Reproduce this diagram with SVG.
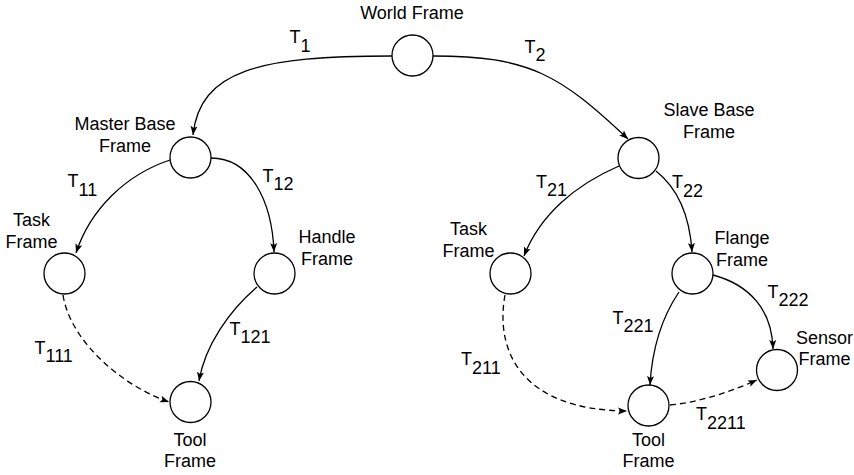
<svg xmlns="http://www.w3.org/2000/svg" width="854" height="475" viewBox="0 0 854 475">
<style>
.n{fill:#fff;stroke:#000;stroke-width:1.3}
.t{font-family:"Liberation Sans",Arial,sans-serif;font-size:18px;fill:#000}
.m{text-anchor:middle}
.e{fill:none;stroke:#000;stroke-width:1.3;marker-end:url(#a)}
.d{stroke-dasharray:6 4}
</style>
<defs>
<marker id="a" markerWidth="10" markerHeight="8" refX="9" refY="4" orient="auto" markerUnits="userSpaceOnUse">
<path d="M0,0.5 L9,4 L0,7.5 L2,4 z" fill="#000"/>
</marker>
</defs>
<g id="connectors">
<path class="e" d="M392,56 C260,56 200,70 193,135"/>
<path class="e" d="M433,56 C530,56 560,75 628,139"/>
<path class="e" d="M170,160 C125,175 90,210 76,253"/>
<path class="e" d="M211,158 C250,158 272,200 274,252"/>
<path class="e" d="M257,287 C230,310 205,345 199,381"/>
<path class="e d" d="M63,295 C70,340 120,385 169,402"/>
<path class="e" d="M619,166 C575,185 540,215 524,256"/>
<path class="e" d="M656,171 C680,190 690,220 692,252"/>
<path class="e d" d="M505,295 C495,350 520,410 627,411"/>
<path class="e" d="M679,292 C660,320 652,350 650,385"/>
<path class="e" d="M713,275 C750,285 772,310 773,349"/>
<path class="e d" d="M670,405 C700,402 730,392 757,380"/>
<text class="t" x="289.5" y="43">T<tspan dy="8.5">1</tspan></text>
<text class="t" x="524.5" y="53">T<tspan dy="8">2</tspan></text>
<text class="t" x="67.5" y="187">T<tspan dy="8.5">11</tspan></text>
<text class="t" x="262.5" y="182">T<tspan dy="8">12</tspan></text>
<text class="t" x="34.5" y="354">T<tspan dy="8">111</tspan></text>
<text class="t" x="229.5" y="335">T<tspan dy="8">121</tspan></text>
<text class="t" x="536" y="187.5">T<tspan dy="8.5">21</tspan></text>
<text class="t" x="672" y="188">T<tspan dy="8.5">22</tspan></text>
<text class="t" x="461" y="365">T<tspan dy="9">211</tspan></text>
<text class="t" x="612.5" y="323.5">T<tspan dy="8.5">221</tspan></text>
<text class="t" x="767.5" y="297.5">T<tspan dy="8.5">222</tspan></text>
<text class="t" x="696" y="420">T<tspan dy="8.5">2211</tspan></text>
</g>
<g id="world"><circle class="n" cx="412.5" cy="55.5" r="20.5"/><text class="t m" x="412" y="18.5">World Frame</text></g>
<g id="masterBase"><circle class="n" cx="190.5" cy="157.5" r="20.5"/><text class="t m" x="125" y="129.5">Master Base</text><text class="t m" x="125" y="151.5">Frame</text></g>
<g id="taskL"><circle class="n" cx="64.5" cy="273.5" r="20.5"/><text class="t m" x="31.5" y="226">Task</text><text class="t m" x="31.5" y="247.5">Frame</text></g>
<g id="handle"><circle class="n" cx="274.5" cy="273.5" r="20.5"/><text class="t m" x="327" y="243">Handle</text><text class="t m" x="327" y="264.5">Frame</text></g>
<g id="toolL"><circle class="n" cx="190.5" cy="402" r="20.5"/><text class="t m" x="190" y="446">Tool</text><text class="t m" x="190" y="467">Frame</text></g>
<g id="slaveBase"><circle class="n" cx="638.5" cy="158" r="20.5"/><text class="t m" x="709" y="116">Slave Base</text><text class="t m" x="709" y="137.5">Frame</text></g>
<g id="taskR"><circle class="n" cx="510.5" cy="273.5" r="20.5"/><text class="t m" x="468.5" y="235">Task</text><text class="t m" x="468.5" y="256.5">Frame</text></g>
<g id="flange"><circle class="n" cx="692.5" cy="273.5" r="20.5"/><text class="t m" x="742" y="244">Flange</text><text class="t m" x="742" y="265.5">Frame</text></g>
<g id="sensor"><circle class="n" cx="777" cy="370" r="20.5"/><text class="t m" x="824.5" y="343.5">Sensor</text><text class="t m" x="824.5" y="365">Frame</text></g>
<g id="toolR"><circle class="n" cx="648.5" cy="405.5" r="20.5"/><text class="t m" x="648.5" y="446">Tool</text><text class="t m" x="648.5" y="466.5">Frame</text></g>
</svg>
